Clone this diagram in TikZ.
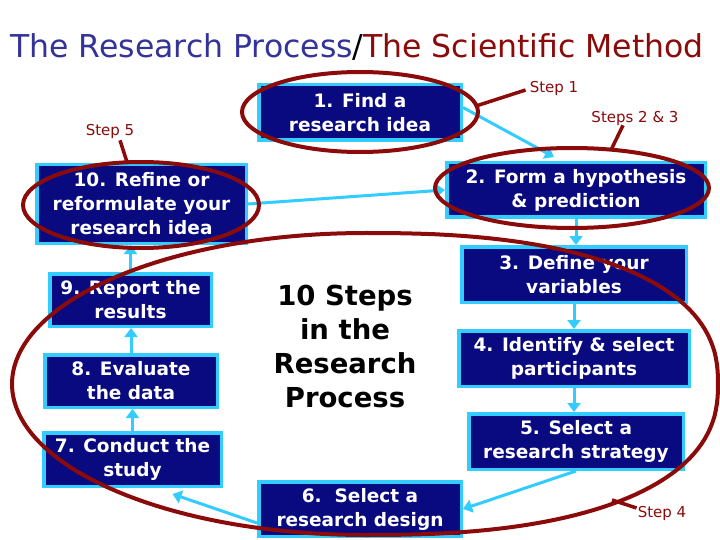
\documentclass[tikz,border=0pt]{standalone}
\usepackage{fontspec}
\setmainfont{DejaVu Sans}
\usetikzlibrary{arrows.meta,calc}
\definecolor{navy}{HTML}{0A0A80}
\definecolor{sky}{HTML}{33CCFF}
\definecolor{dred}{HTML}{8B0A0A}
\definecolor{tblue}{HTML}{333399}
\begin{document}
\begin{tikzpicture}[x=1pt,y=-1pt,
  stepbox/.style={draw=sky, line width=3.5pt, fill=navy, text=white,
    font=\bfseries\fontsize{18.5}{24}\selectfont, align=center, inner sep=0pt},
  arr/.style={draw=sky, line width=3pt, -{Triangle[width=13pt,length=9pt]}},
  ring/.style={draw=dred, line width=4pt, line join=round},
  lab/.style={text=dred, font=\fontsize{15}{18}\selectfont, inner sep=0pt}]
\useasboundingbox (0,0) rectangle (720,540);
\fill[white] (0,0) rectangle (720,540);

\node[anchor=base west, inner sep=0pt, font=\fontsize{31.5}{36}\selectfont] (title) at (10,58)
  {\textcolor{tblue}{The Research Process}\textcolor{black}{/}\textcolor{dred}{The Scientific Method}};

% boxes
\node[stepbox, minimum width=202.5pt, minimum height=55.5pt] (b1) at (360,112.5) {1. Find a\\research idea};
\node[stepbox, minimum width=258.5pt, minimum height=54.5pt] (b2) at (576,190) {2. Form a hypothesis\\\& prediction};
\node[stepbox, minimum width=224.5pt, minimum height=55.5pt] (b3) at (574,274.5) {3. Define your\\variables};
\node[stepbox, minimum width=230.5pt, minimum height=55.5pt] (b4) at (574,358.5) {4. Identify \& select\\participants};
\node[stepbox, minimum width=214.5pt, minimum height=55.5pt] (b5) at (576,441.5) {5. Select a\\research strategy};
\node[stepbox, minimum width=202.5pt, minimum height=54.5pt] (b6) at (360,509) {6.\ \ Select a\\research design};
\node[stepbox, minimum width=177.5pt, minimum height=53.5pt] (b7) at (132.5,459.5) {7. Conduct the\\study};
\node[stepbox, minimum width=172.5pt, minimum height=52.5pt] (b8) at (131,381) {8. Evaluate\\the data};
\node[stepbox, minimum width=161.5pt, minimum height=52.5pt] (b9) at (130.5,300) {9. Report the\\results};
\node[stepbox, minimum width=209.5pt, minimum height=78.5pt] (b10) at (141.5,204) {10. Refine or\\reformulate your\\research idea};

\node[font=\bfseries\fontsize{27.5}{34}\selectfont, align=center, inner sep=0pt] (mid) at (345,346)
  {10 Steps\\in the\\Research\\Process};

% connectors
\draw[arr] ($(b1.east)+(0,-5)$) -- ($(b2.north)+(-22,-4)$);
\draw[arr] (b2.south) -- (b2.south |- b3.north);
\draw[arr] (b3.south) -- (b3.south |- b4.north);
\draw[arr] (b4.south) -- (b4.south |- b5.north);
\draw[arr] (b5.south) -- (b6.east);
\draw[arr] ($(b6.west)+(0,14)$) -- ($(b7.south)+(40,6)$);
\draw[arr] (b7.north) -- (b7.north |- b8.south);
\draw[arr] (b8.north) -- (b8.north |- b9.south);
\draw[arr] (b9.north) -- (b9.north |- b10.south);
\draw[arr] (b10.east) -- (b2.west);

% red rings
\draw[ring] (b1.center) ++(0,-0.5) ellipse [x radius=118pt, y radius=40pt];
\draw[ring] (b2.center) ++(-4,-2) ellipse [x radius=137pt, y radius=40pt];
\draw[ring] (b10.center) ++(-0.5,1) ellipse [x radius=118pt, y radius=43pt];
\draw[ring] plot[domain=-89.9:89.9, samples=90]
    ({365+353*pow(cos(\x),0.8333)},{384+151*sign(sin(\x))*pow(abs(sin(\x))+0.00001,0.8333)})
  -- plot[domain=90:270, samples=90] ({365+353*cos(\x)},{384+151*sin(\x)}) -- cycle;

% callouts
\node[lab] (s1) at (554,88) {Step 1};
\node[lab] (s23) at (635,118) {Steps 2 \& 3};
\node[lab] (s5) at (110,131) {Step 5};
\node[lab] (s4) at (662,513) {Step 4};
\coordinate (e1) at (476,106);
\coordinate (e2) at (611,150);
\coordinate (e5) at (127,162);
\coordinate (e4) at (612,500);
\draw[ring, line width=3.5pt] (e1) -- ($(s1.west)+(-4,2)$);
\draw[ring, line width=3.5pt] (e2) -- ($(s23.south)+(-12,0)$);
\draw[ring, line width=3.5pt] (e5) -- ($(s5.south)+(10,2)$);
\draw[ring, line width=3.5pt] (e4) -- ($(s4.west)+(-1,-5)$);
\end{tikzpicture}
\end{document}
